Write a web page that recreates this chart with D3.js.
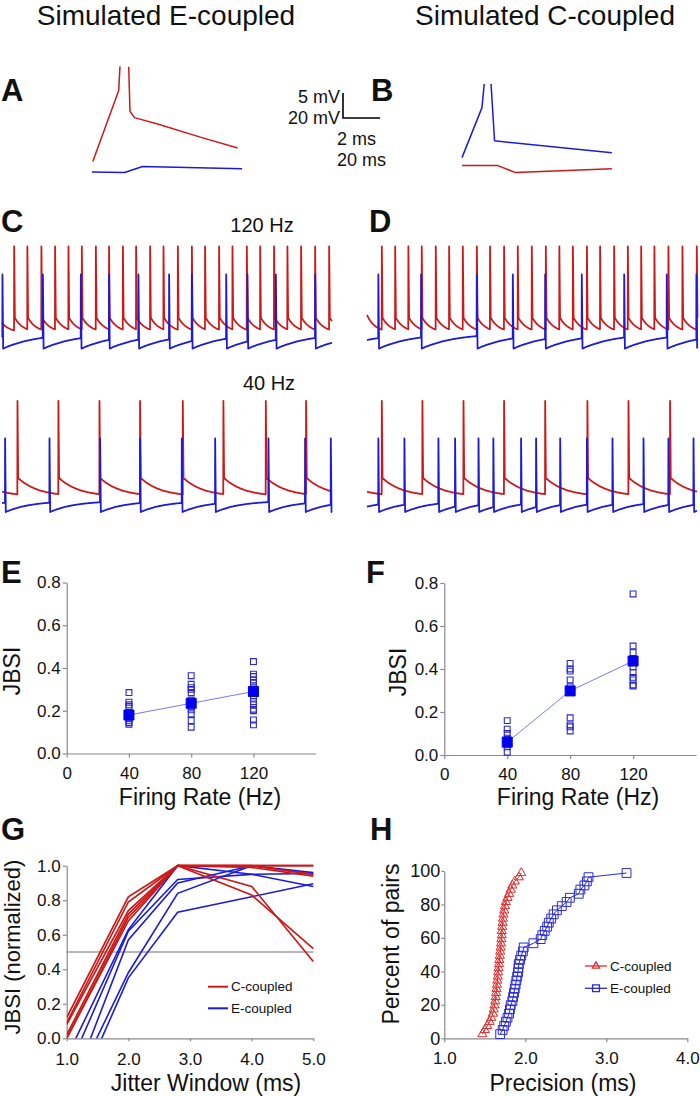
<!DOCTYPE html>
<html><head><meta charset="utf-8">
<script src="https://cdn.jsdelivr.net/npm/d3@7"></script>
<style>
body{margin:0;background:#fff}
svg{display:block}
</style>
</head><body>
<svg id="fig" width="700" height="1096"></svg>
<script>
// ================= DATA =================
const headerLabels = ["Simulated E-coupled", "Simulated C-coupled"];
const panelLetters = ["A","B","C","D","E","F","G","H"];
const rateLabels = ["120 Hz", "40 Hz"];
const scaleBarLabels = ["5 mV", "20 mV", "2 ms", "20 ms"];

// Panel A (E-coupled): [time ms, potential re. rest mV]; null = clipped spike top
const traceARed  = [[0,2.6],[1.4,20.4],[1.47,26.4],null,[1.94,26.3],[2.01,15.2],[2.25,13.6],[3.5,12.0],[5.9,8.6],[7.83,6.0]];
const traceABlue = [[-0.05,0],[1.72,-0.14],[2.69,1.37],[8.07,0.8]];
// Panel B (C-coupled)
const traceBBlue = [[0,2.0],[1.08,14.5],[1.2,20.4],null,[1.57,20.4],[1.76,6.2],[8.1,3.2]];
const traceBRed  = [[0,0],[1.94,0],[2.9,-1.75],[8.1,-0.8]];

// Panels C/D: spike times (ms) in a 200 ms sweep
const c120RedSpikes  = [7.3,15.3,23.8,32.1,40.2,48.3,56.8,64.8,73.2,81.2,89.7,97.8,106.5,115.0,123.0,131.5,139.6,148.3,156.4,164.8,172.9,181.2,189.7,198.2];
const c120BlueSpikes = [0.2,24.7,47.7,64.8,82.6,101.2,115.0,135.8,148.7,165.9,189.7];
const c40RedSpikes   = [9.3,34.1,59.0,83.6,109.5,134.1,159.8,184.2];
const c40BlueSpikes  = [1.8,28.7,59.4,83.6,108.9,129.1,161.4,183.6,199.2];
const d120RedSpikes  = [8.9,17.0,25.0,33.1,41.6,49.7,58.0,66.5,74.5,83.0,91.3,99.8,108.3,116.5,124.7,133.2,141.2,149.7,158.0,166.1,174.1,182.6,191.1,199.8];
const d120BlueSpikes = [6.8,32.7,66.5,88.3,107.9,130.1,155.8,181.6,199.6];
const d40RedSpikes   = [8.9,33.5,58.4,83.0,107.9,133.5,158.4,183.6];
const d40BlueSpikes  = [6.8,22.6,43.2,53.3,67.5,76.5,93.3,102.4,117.0,133.2,148.7,167.5,182.6,197.8];
// membrane levels (mV): spike peak, post-spike level, resting target, recovery tau (ms)
const red120Levels  = {peak:4,    after:-47,   pre:-57.5, tau:5};
const blue120Levels = {peak:-16,  after:-69,   pre:-58,   tau:20};
const red40Levels   = {peak:9.3,  after:-45.7, pre:-59,   tau:12};
const blue40Levels  = {peak:-17.4,after:-70,   pre:-62,   tau:15};
const c120Start = {red:-50.7, blue:-61};
const c40Start  = {red:-55.5, blue:-63.6};
const d120Start = {red:-45,   blue:-62.9};
const d40Start  = {red:-55.5, blue:-66.2};

// Panels E/F: JBSI vs firing rate
const firingRates = [40, 80, 120];
const rateTicks = [0, 40, 80, 120];
const jbsiTicks = [0, 0.2, 0.4, 0.6, 0.8];
const eJbsi40  = [0.285,0.24,0.228,0.22,0.19,0.175,0.165,0.155,0.145,0.137];
const eJbsi80  = [0.364,0.324,0.308,0.30,0.285,0.25,0.23,0.219,0.204,0.185,0.154,0.123];
const eJbsi120 = [0.43,0.371,0.36,0.344,0.329,0.31,0.259,0.243,0.227,0.207,0.2,0.157,0.134];
const eMeans   = [0.18, 0.235, 0.29];
const fJbsi40  = [0.16,0.12,0.10,0.078,0.05,0.038,0.013];
const fJbsi80  = [0.426,0.40,0.39,0.349,0.317,0.30,0.173,0.14,0.131,0.112];
const fJbsi120 = [0.749,0.507,0.476,0.41,0.383,0.361,0.349,0.326,0.321];
const fMeans   = [0.06, 0.298, 0.437];

// Panel G: normalized JBSI vs jitter window
const jitterWindows = [1.0, 2.0, 2.8, 4.0, 5.0];
const jitterTicks = [1, 2, 3, 4, 5];
const normTicks = [0, 0.2, 0.4, 0.6, 0.8, 1.0];
const gCcoupled = [
  [0.12, 0.82, 1.0, 1.0,  1.0],
  [0.09, 0.79, 1.0, 0.99, 0.94],
  [0.08, 0.74, 1.0, 1.0,  0.95],
  [0.02, 0.72, 1.0, 0.88, 0.445],
  [0.0,  0.70, 1.0, 0.83, 0.52],
  [0.0,  0.68, 1.0, 1.0,  1.0]
];
const gEcoupled = [
  [-0.11, 0.63, 1.0,  0.95, 0.88],
  [-0.20, 0.62, 0.92, 0.95, 0.955],
  [-0.36, 0.57, 0.90, 1.0,  0.96],
  [-0.36, 0.38, 0.84, 1.0,  0.95],
  [-0.46, 0.35, 0.73, 0.82, 0.895]
];
const gHalfLevel = 0.5;
const legendLabels = ["C-coupled", "E-coupled"];

// Panel H: cumulative distribution of precision
const hPercent = [2.5,5,7.4,9.9,12.3,14.8,17.3,19.8,22.2,24.7,27.2,29.6,32.1,34.6,37,39.5,42,44.4,46.9,49.4,51.9,54.3,56.8,59.3,61.7,64.2,66.7,69.1,71.6,74.1,76.5,79,81.5,84,86.4,88.9,91.4,93.8,96.3,98.8];
const hCPrecision = [1.47,1.50,1.53,1.56,1.58,1.60,1.61,1.62,1.63,1.635,1.64,1.645,1.65,1.655,1.66,1.665,1.67,1.675,1.68,1.685,1.69,1.695,1.70,1.705,1.71,1.71,1.715,1.72,1.725,1.73,1.74,1.75,1.76,1.78,1.80,1.82,1.84,1.87,1.92,1.95];
const hEPrecision = [1.69,1.72,1.74,1.76,1.78,1.80,1.81,1.82,1.84,1.85,1.86,1.87,1.88,1.89,1.90,1.91,1.915,1.92,1.935,1.95,1.97,1.98,2.10,2.19,2.21,2.24,2.27,2.29,2.32,2.35,2.39,2.45,2.51,2.55,2.66,2.68,2.73,2.76,2.78,3.25];
const precisionTicks = [1, 2, 3, 4];
const percentTicks = [0, 20, 40, 60, 80, 100];

// ================= STYLE =================
const FONT = '"Liberation Sans", Arial, Helvetica, sans-serif';
const RED = "#cc1a1a", BLUE = "#1c1cd8", AXIS = "#8a8a8a", INK = "#111";

const svg = d3.select("#fig");

function text(x, y, s, size, opt = {}) {
  const t = svg.append("text").attr("x", x).attr("y", y).text(s)
    .attr("font-family", FONT).attr("font-size", size).attr("fill", opt.fill || INK)
    .attr("text-anchor", opt.anchor || "start");
  if (opt.bold) t.attr("font-weight", "bold");
  if (opt.rotate) t.attr("transform", `rotate(-90 ${x} ${y})`);
  return t;
}

// headers
text(166, 25, headerLabels[0], 28, {anchor: "middle"});
text(545, 25, headerLabels[1], 28, {anchor: "middle"});

// panel letters
const letterPos = [[1, 101],[371, 101],[1, 232],[369, 232],[1, 583],[366, 583],[1, 840],[370, 840]];
panelLetters.forEach((L, i) => text(letterPos[i][0], letterPos[i][1], L, 31, {bold: true}));

// ================= A / B =================
const xA = d3.scaleLinear().domain([0, 2]).range([92.8, 129.8]);
const yA = d3.scaleLinear().domain([0, 5]).range([172, 152]);
const xB = d3.scaleLinear().domain([0, 2]).range([462, 499]);
const yB = d3.scaleLinear().domain([0, 5]).range([165.6, 145.6]);

function drawPath(data, xs, ys, color, w) {
  svg.append("path").datum(data)
    .attr("d", d3.line().defined(d => d).x(d => xs(d[0])).y(d => ys(d[1])))
    .attr("fill", "none").attr("stroke", color).attr("stroke-width", w)
    .attr("stroke-linejoin", "round");
}
drawPath(traceARed, xA, yA, RED, 1.5);
drawPath(traceABlue, xA, yA, BLUE, 1.5);
drawPath(traceBBlue, xB, yB, BLUE, 1.5);
drawPath(traceBRed, xB, yB, RED, 1.5);

// scale bar annotation (L-shaped), labels stacked beside it
const sbX = 343, sbTop = 93, sbY = 118, sbLen = xA(2) - xA(0);
svg.append("path")
  .attr("d", `M${sbX},${sbTop}V${sbY}H${sbX + sbLen}`)
  .attr("fill", "none").attr("stroke", "#000").attr("stroke-width", 1.6);
text(340, 103, scaleBarLabels[0], 18, {anchor: "end"});
text(340, 124, scaleBarLabels[1], 18, {anchor: "end"});
text(337, 145, scaleBarLabels[2], 18);
text(337, 166, scaleBarLabels[3], 18);

// ================= C / D =================
const xC = d3.scaleLinear().domain([0, 200]).range([2, 332]);
const xD = d3.scaleLinear().domain([0, 200]).range([367, 697]);
const yRow1 = d3.scaleLinear().domain([-70, 0]).range([350, 252]);
const yRow2 = d3.scaleLinear().domain([-70, 0]).range([512, 414]);

function buildTrace(spikes, lv, startV, tEnd) {
  const pts = [];
  const relax = (v0, t) => lv.pre + (v0 - lv.pre) * Math.exp(-t / lv.tau);
  let t = 0, v0 = startV, tRef = 0;
  const sampleTo = (tStop) => {
    for (let tt = t; tt < tStop; tt += 0.5) pts.push([tt, relax(v0, tt - tRef)]);
  };
  spikes.forEach(s => {
    if (s > t) sampleTo(s);
    const vs = s > t ? relax(v0, s - tRef) : v0;
    pts.push([s, vs], [s + 0.08, lv.peak], [s + 0.5, lv.after]);
    t = s + 0.5; tRef = s + 0.5; v0 = lv.after;
  });
  if (t < tEnd) { sampleTo(tEnd); pts.push([tEnd, relax(v0, tEnd - tRef)]); }
  return pts;
}
function drawTrace(spikes, lv, start, xs, ys, color) {
  drawPath(buildTrace(spikes, lv, start, 200), xs, ys, color, 1.8);
}
drawTrace(c120RedSpikes, red120Levels, c120Start.red, xC, yRow1, RED);
drawTrace(c120BlueSpikes, blue120Levels, c120Start.blue, xC, yRow1, BLUE);
drawTrace(c40RedSpikes, red40Levels, c40Start.red, xC, yRow2, RED);
drawTrace(c40BlueSpikes, blue40Levels, c40Start.blue, xC, yRow2, BLUE);
drawTrace(d120RedSpikes, red120Levels, d120Start.red, xD, yRow1, RED);
drawTrace(d120BlueSpikes, blue120Levels, d120Start.blue, xD, yRow1, BLUE);
drawTrace(d40RedSpikes, red40Levels, d40Start.red, xD, yRow2, RED);
drawTrace(d40BlueSpikes, blue40Levels, d40Start.blue, xD, yRow2, BLUE);

text(262, 232, rateLabels[0], 20, {anchor: "middle"});
text(269, 390, rateLabels[1], 20, {anchor: "middle"});

// ================= axes helper =================
function styleAxis(g, size) {
  g.attr("font-family", FONT).attr("font-size", size);
  g.select(".domain").attr("stroke", AXIS).attr("stroke-width", 1.2);
  g.selectAll(".tick line").attr("stroke", AXIS).attr("stroke-width", 1.2);
  g.selectAll(".tick text").attr("fill", INK);
}

// ================= E / F =================
function scatterPanel(x0, x1, yb, yt, sets, means, yTitleX, xTitleX) {
  const x = d3.scaleLinear().domain([0, 160]).range([x0, x1]);
  const y = d3.scaleLinear().domain([0, 0.8]).range([yb, yt]);
  const gx = svg.append("g").attr("transform", `translate(0,${yb})`)
    .call(d3.axisBottom(x).tickValues(rateTicks).tickFormat(d3.format("d")).tickSize(4).tickSizeOuter(0).tickPadding(9));
  styleAxis(gx, 17);
  const gy = svg.append("g").attr("transform", `translate(${x0},0)`)
    .call(d3.axisLeft(y).tickValues(jbsiTicks).tickFormat(d3.format(".1f")).tickSize(4).tickSizeOuter(0).tickPadding(2));
  styleAxis(gy, 17);
  text(yTitleX, (yb + yt) / 2 + 3, "JBSI", 23, {anchor: "middle", rotate: true});
  text(xTitleX, 805, "Firing Rate (Hz)", 23, {anchor: "middle"});
  // mean line
  svg.append("path").datum(firingRates.map((r, i) => [r, means[i]]))
    .attr("d", d3.line().x(d => x(d[0])).y(d => y(d[1])))
    .attr("fill", "none").attr("stroke", "#7a7aea").attr("stroke-width", 1);
  const sq = d3.symbol().type(d3.symbolSquare);
  sets.forEach((vals, i) => {
    svg.append("g").selectAll("path").data(vals).join("path")
      .attr("d", sq.size(34)())
      .attr("transform", d => `translate(${x(firingRates[i])},${y(d)})`)
      .attr("fill", "none").attr("stroke", "#2a2ad0").attr("stroke-width", 1.1);
  });
  svg.append("g").selectAll("path").data(means).join("path")
    .attr("d", d3.symbol().type(d3.symbolSquare).size(100)())
    .attr("transform", (d, i) => `translate(${x(firingRates[i])},${y(d)})`)
    .attr("fill", "#0000ee").attr("stroke", "#0000ee");
}
scatterPanel(66.7, 315.7, 753.5, 582.5, [eJbsi40, eJbsi80, eJbsi120], eMeans, 20, 200);
scatterPanel(444.3, 696, 755, 583, [fJbsi40, fJbsi80, fJbsi120], fMeans, 406, 578);

// ================= G =================
{
  const x = d3.scaleLinear().domain([1, 5]).range([66.7, 313.3]);
  const y = d3.scaleLinear().domain([0, 1]).range([1038.3, 865.7]);
  svg.append("defs").append("clipPath").attr("id", "gclip")
    .append("rect").attr("x", x(1)).attr("y", y(1) - 3).attr("width", x(5) - x(1) + 2).attr("height", y(0) - y(1) + 3);
  const gx = svg.append("g").attr("transform", `translate(0,${y(0)})`)
    .call(d3.axisBottom(x).tickValues(jitterTicks).tickFormat(d3.format(".1f")).tickSize(3).tickSizeOuter(0).tickPadding(12));
  styleAxis(gx, 17);
  const gy = svg.append("g").attr("transform", `translate(${x(1)},0)`)
    .call(d3.axisLeft(y).tickValues(normTicks).tickFormat(d3.format(".1f")).tickSize(4).tickSizeOuter(0).tickPadding(2));
  styleAxis(gy, 17);
  svg.append("line").attr("x1", x(1)).attr("x2", x(5)).attr("y1", y(gHalfLevel)).attr("y2", y(gHalfLevel))
    .attr("stroke", "#6e6e6e").attr("stroke-width", 1.1);
  const line = d3.line().x((d, i) => x(jitterWindows[i])).y(d => y(d));
  const lg = svg.append("g").attr("clip-path", "url(#gclip)");
  gEcoupled.forEach(s => lg.append("path").attr("d", line(s)).attr("fill", "none").attr("stroke", BLUE).attr("stroke-width", 1.6));
  gCcoupled.forEach(s => lg.append("path").attr("d", line(s)).attr("fill", "none").attr("stroke", RED).attr("stroke-width", 1.7));
  text(20, 947, "JBSI (normalized)", 22, {anchor: "middle", rotate: true});
  text(206, 1091, "Jitter Window (ms)", 23, {anchor: "middle"});
  // legend
  [[RED, 986.7], [BLUE, 1008.3]].forEach(([c, yy], i) => {
    svg.append("line").attr("x1", 208).attr("x2", 228).attr("y1", yy).attr("y2", yy).attr("stroke", c).attr("stroke-width", 2);
    text(231, yy + 4.7, legendLabels[i], 13.5);
  });
}

// ================= H =================
{
  const x = d3.scaleLinear().domain([1, 4]).range([444.3, 687.3]);
  const y = d3.scaleLinear().domain([0, 100]).range([1038.3, 871]);
  const gx = svg.append("g").attr("transform", `translate(0,${y(0)})`)
    .call(d3.axisBottom(x).tickValues(precisionTicks).tickFormat(d3.format(".1f")).tickSize(4).tickSizeOuter(0).tickPadding(10));
  styleAxis(gx, 17);
  const gy = svg.append("g").attr("transform", `translate(${x(1)},0)`)
    .call(d3.axisLeft(y).tickValues(percentTicks).tickSize(3).tickSizeOuter(0).tickPadding(1));
  styleAxis(gy, 18);
  text(399, 944, "Percent of pairs", 23, {anchor: "middle", rotate: true});
  text(563, 1091, "Precision (ms)", 23, {anchor: "middle"});

  const series = [
    {p: hCPrecision, c: "#dd2c2c", sym: d3.symbolTriangle, size: 36},
    {p: hEPrecision, c: "#2a2ad6", sym: d3.symbolSquare, size: 78}
  ];
  series.forEach(s => {
    const pts = s.p.map((v, i) => [v, hPercent[i]]);
    svg.append("path").datum(pts).attr("d", d3.line().x(d => x(d[0])).y(d => y(d[1])))
      .attr("fill", "none").attr("stroke", s.c).attr("stroke-width", 1);
    svg.append("g").selectAll("path").data(pts).join("path")
      .attr("d", d3.symbol().type(s.sym).size(s.size)())
      .attr("transform", d => `translate(${x(d[0])},${y(d[1])})`)
      .attr("fill", "none").attr("stroke", s.c).attr("stroke-width", 1);
  });
  // legend
  series.forEach((s, i) => {
    const yy = i === 0 ? 966 : 988.3;
    svg.append("line").attr("x1", 585).attr("x2", 607).attr("y1", yy).attr("y2", yy).attr("stroke", s.c).attr("stroke-width", 1.3);
    svg.append("path").attr("d", d3.symbol().type(s.sym).size(s.size * 0.6)())
      .attr("transform", `translate(596,${yy})`).attr("fill", "none").attr("stroke", s.c).attr("stroke-width", 1.3);
    text(610, yy + 4.7, legendLabels[i], 13.5);
  });
}
</script>
</body></html>
